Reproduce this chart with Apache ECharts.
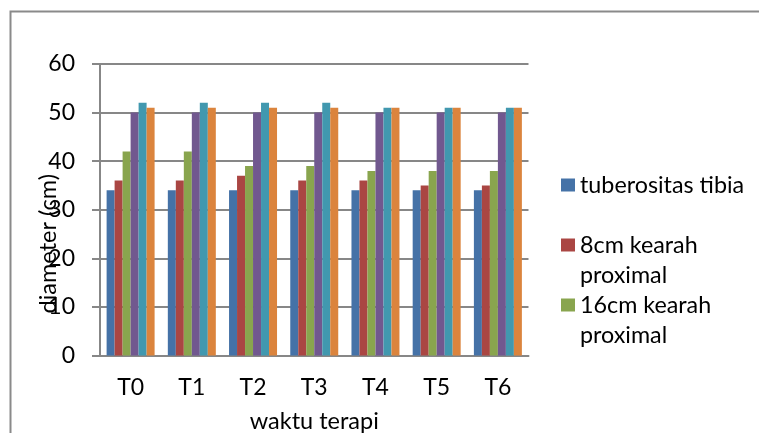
<!DOCTYPE html>
<html>
<head>
<meta charset="utf-8">
<script src="https://cdn.jsdelivr.net/npm/echarts@6/dist/echarts.min.js"></script>
<style>
  html, body { margin: 0; padding: 0; background: #fff; }
  #chart { width: 759px; height: 433px; }
</style>
</head>
<body>
<div id="chart"></div>
<script>
// Time points of therapy
const categories = ['T0', 'T1', 'T2', 'T3', 'T4', 'T5', 'T6'];

// Diameter (cm) per measurement site
const seriesNames = [
  'tuberositas tibia',
  '8cm kearah proximal',
  '16cm kearah proximal',
  'seri 4',
  'seri 5',
  'seri 6'
];
const tuberositasTibia = [34, 34, 34, 34, 34, 34, 34];
const proximal8 = [36, 36, 37, 36, 36, 35, 35];
const proximal16 = [42, 42, 39, 39, 38, 38, 38];
const seri4 = [50, 50, 50, 50, 50, 50, 50];
const seri5 = [52, 52, 52, 52, 51, 51, 51];
const seri6 = [51, 51, 51, 51, 51, 51, 51];
const seriesValues = [tuberositasTibia, proximal8, proximal16, seri4, seri5, seri6];

const yTicks = [0, 10, 20, 30, 40, 50, 60];

const colors = ['#4572A7', '#AA4643', '#89A54E', '#71588F', '#4198AF', '#DB843D'];
const FONT = 'Lato';
const FS = 23;
const GRID = '#878787';

const chart = echarts.init(document.getElementById('chart'), null, { renderer: 'canvas' });

const legendText = {
  fontFamily: FONT,
  fontSize: 23.3,
  color: '#000',
  lineHeight: 30
};

function legendFor(name, top, label) {
  return {
    orient: 'vertical',
    left: 561,
    top: top,
    padding: 0,
    itemWidth: 14,
    itemHeight: 13,
    itemGap: 0,
    icon: 'rect',
    data: [name],
    selectedMode: false,
    textStyle: legendText,
    formatter: function () { return label; }
  };
}

chart.setOption({
  animation: false,
  color: colors,
  grid: {
    left: 100, right: 230.5, top: 64, bottom: 77.5,
    containLabel: false,
    outerBoundsMode: 'none'
  },
  legend: [
    legendFor(seriesNames[0], 170, 'tuberositas tibia'),
    legendFor(seriesNames[1], 200, '\n8cm kearah\nproximal'),
    legendFor(seriesNames[2], 260, '\n16cm kearah\nproximal')
  ],
  xAxis: {
    type: 'category',
    data: categories,
    name: 'waktu terapi',
    nameLocation: 'middle',
    nameGap: 54,
    nameMoveOverlap: false,
    nameTextStyle: { fontFamily: FONT, fontSize: 23.5, color: '#000' },
    axisLine: { lineStyle: { color: GRID, width: 2 } },
    axisTick: { show: false },
    axisLabel: { fontFamily: FONT, fontSize: FS, color: '#000', margin: 21 }
  },
  yAxis: {
    type: 'value',
    min: yTicks[0],
    max: yTicks[yTicks.length - 1],
    interval: yTicks[1] - yTicks[0],
    name: 'diameter (cm)',
    nameLocation: 'middle',
    nameGap: 40,
    nameMoveOverlap: false,
    nameTextStyle: { fontFamily: FONT, fontSize: 23.5, color: '#000', padding: [0, 68, 0, 0] },
    axisLine: { show: true, lineStyle: { color: GRID, width: 2 } },
    axisTick: { show: true, length: 8, lineStyle: { color: GRID, width: 2 } },
    axisLabel: { fontFamily: FONT, fontSize: FS, color: '#000', margin: 25 },
    splitLine: { show: true, lineStyle: { color: GRID, width: 2 } }
  },
  graphic: [{
    type: 'rect',
    left: 8, top: 9,
    shape: { x: 0, y: 0, width: 1200, height: 800 },
    style: { fill: 'none', stroke: '#8a8a8a', lineWidth: 2 },
    silent: true,
    z: -1
  }],
  series: seriesNames.map(function (name, i) {
    return {
      name: name,
      type: 'bar',
      data: seriesValues[i],
      barGap: '0%',
      barCategoryGap: '21.6%',
      itemStyle: { color: colors[i] }
    };
  })
});
</script>
</body>
</html>
